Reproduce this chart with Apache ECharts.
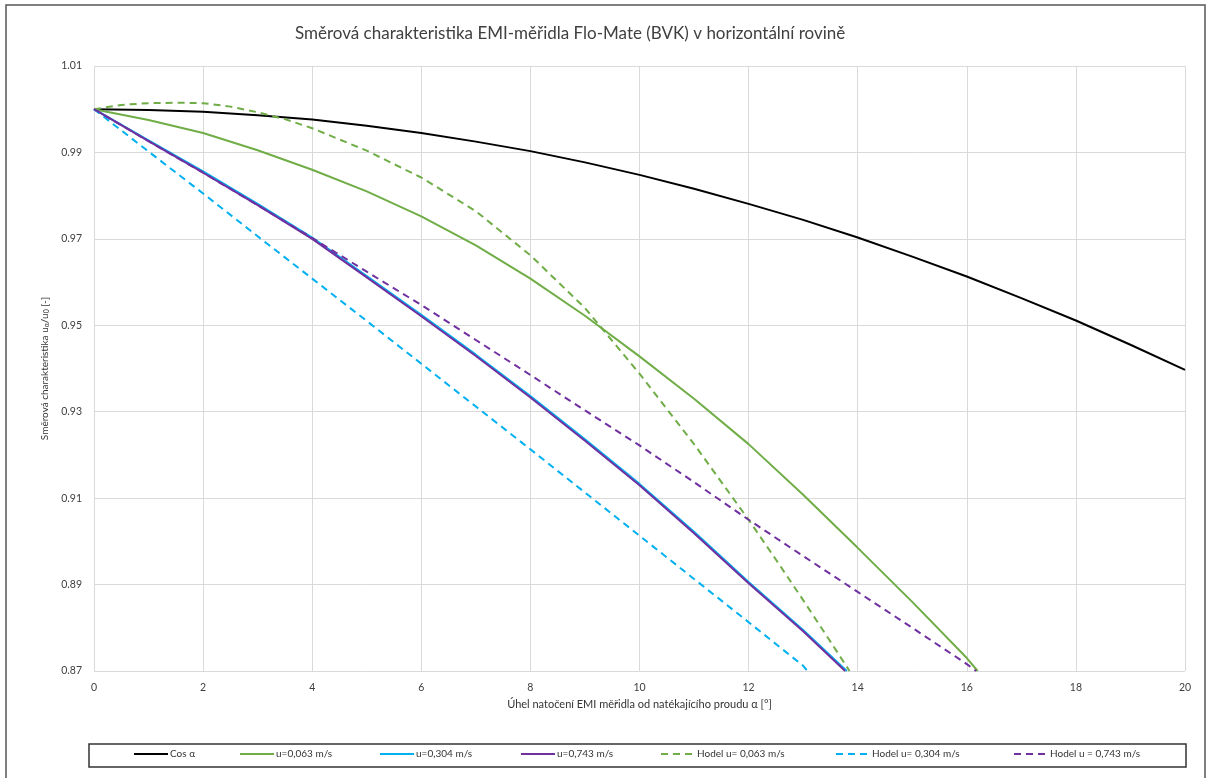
<!DOCTYPE html>
<html>
<head>
<meta charset="utf-8">
<script src="https://cdn.jsdelivr.net/npm/echarts@6/dist/echarts.min.js"></script>
<style>html,body{margin:0;padding:0;background:#fff;}#c{width:1208px;height:778px;}</style>
</head>
<body>
<div id="c"></div>
<script>
// ---- data ----
const seriesNames = ['Cos α','u=0,063 m/s','u=0,304 m/s','u=0,743 m/s','Hodel u= 0,063 m/s','Hodel u= 0,304 m/s','Hodel u = 0,743 m/s'];

const cosX = [0,1,2,3,4,5,6,7,8,9,10,11,12,13,14,15,16,17,18,19,20];
const cosY = [1.0000,0.9998,0.9994,0.9986,0.9976,0.9962,0.9945,0.9925,0.9903,0.9877,0.9848,0.9816,0.9781,0.9744,0.9703,0.9659,0.9613,0.9563,0.9511,0.9455,0.9397];

const u063X = [0,1,2,3,4,5,6,7,8,9,10,11,12,13,14,15,16,16.2];
const u063Y = [1.0000,0.9975,0.9945,0.9905,0.9860,0.9810,0.9752,0.9685,0.9608,0.9522,0.9428,0.9330,0.9225,0.9108,0.8985,0.8860,0.8730,0.8700];

const u304X = [0,1,2,3,4,5,6,7,8,9,10,11,12,13,13.8];
const u304Y = [1.0000,0.9928,0.9856,0.9781,0.9703,0.9614,0.9524,0.9432,0.9336,0.9236,0.9133,0.9022,0.8906,0.8795,0.8700];

const u743X = [0,1,2,3,4,5,6,7,8,9,10,11,12,13,13.77];
const u743Y = [1.0000,0.9926,0.9853,0.9778,0.9700,0.9611,0.9521,0.9429,0.9333,0.9233,0.9130,0.9019,0.8903,0.8792,0.8700];

const m063X = [0,0.5,1,1.5,2,2.5,3,3.5,4,5,6,7,8,9,10,11,12,12.5,13,13.5,13.85];
const m063Y = [1.0000,1.0010,1.0014,1.0015,1.0014,1.0006,0.9993,0.9977,0.9956,0.9904,0.9842,0.9764,0.9662,0.9540,0.9388,0.9225,0.9050,0.8958,0.8864,0.8768,0.8700];

const m304X = [0,1,2,3,4,5,6,7,8,9,10,11,12,13,13.08];
const m304Y = [1.0000,0.9902,0.9805,0.9706,0.9608,0.9510,0.9411,0.9312,0.9213,0.9113,0.9013,0.8913,0.8813,0.8712,0.8700];

const m743X = [0,1,2,3,4,5,6,7,8,9,10,11,12,13,14,15,16,16.17];
const m743Y = [1.0000,0.9926,0.9853,0.9778,0.9702,0.9624,0.9547,0.9466,0.9385,0.9303,0.9222,0.9137,0.9050,0.8966,0.8883,0.8800,0.8716,0.8700];

const xTicks = [0,2,4,6,8,10,12,14,16,18,20];
const yTicks = [0.87,0.89,0.91,0.93,0.95,0.97,0.99,1.01];

// ---- build chart ----
const pairs = (xs, ys) => xs.map((x, i) => [x, ys[i]]);
const colors = ['#000000','#70ad47','#00b0f0','#7030a0','#70ad47','#00b0f0','#7030a0'];
const dataSets = [pairs(cosX,cosY),pairs(u063X,u063Y),pairs(u304X,u304Y),pairs(u743X,u743Y),pairs(m063X,m063Y),pairs(m304X,m304Y),pairs(m743X,m743Y)];
const legendLeft = [133,239,379,520,660,835,1013];

const FONT = 'Lato, "Open Sans", sans-serif';

const chart = echarts.init(document.getElementById('c'), null, {renderer:'canvas'});
chart.setOption({
  animation: false,
  backgroundColor: '#fff',
  textStyle: {fontFamily: FONT},
  title: {
    text: 'Směrová charakteristika EMI-měřidla Flo-Mate (BVK) v horizontální rovině',
    left: 290, top: 20,
    textStyle: {fontSize: 17, fontWeight: 'normal', color: '#404040', fontFamily: FONT}
  },
  grid: {left: 94, right: 23, top: 66, bottom: 107, containLabel: false},
  xAxis: {
    type: 'value', min: xTicks[0], max: xTicks[xTicks.length-1], interval: xTicks[1]-xTicks[0],
    name: 'Úhel natočení EMI měřidla od natékajícího proudu α [°]',
    nameLocation: 'middle', nameGap: 28,
    nameTextStyle: {fontSize: 11, color: '#333', fontFamily: FONT},
    axisLine: {show: false}, axisTick: {show: false},
    axisLabel: {fontSize: 10.5, color: '#404040', margin: 11, fontFamily: FONT},
    splitLine: {show: true, lineStyle: {color: '#d9d9d9', width: 1}}
  },
  yAxis: {
    type: 'value', min: yTicks[0], max: yTicks[yTicks.length-1], interval: 0.02,
    name: '{n|Směrová charakteristika u}{s|α}{n|/u}{s|0}{n| [-]}',
    nameLocation: 'middle', nameGap: 42, nameRotate: 90,
    nameTextStyle: {
      fontSize: 10, color: '#333', fontFamily: FONT,
      rich: {
        n: {fontSize: 10, color: '#333', fontFamily: FONT},
        s: {fontSize: 7, color: '#333', fontFamily: FONT, verticalAlign: 'bottom', padding: [4,0,0,0]}
      }
    },
    axisLine: {show: false}, axisTick: {show: false},
    axisLabel: {fontSize: 10.5, color: '#404040', margin: 12, fontFamily: FONT,
      formatter: v => Number(v).toFixed(2)},
    splitLine: {show: true, lineStyle: {color: '#d9d9d9', width: 1}}
  },
  legend: seriesNames.map((n, i) => ({
    data: [n], left: legendLeft[i], top: 749,
    itemWidth: 34, itemHeight: 12, itemGap: 2, padding: 0,
    itemStyle: {opacity: 0},
    textStyle: {fontSize: 10, color: '#333', fontFamily: FONT, padding: [0,0,0,-3]},
    selectedMode: false
  })),
  series: seriesNames.map((n, i) => ({
    name: n, type: 'line', data: dataSets[i],
    symbol: 'none', smooth: false,
    lineStyle: {color: colors[i], width: 2, type: i >= 4 ? [7,5] : 'solid'},
    itemStyle: {color: colors[i]},
    z: i >= 4 ? 3 : 2
  })),
  graphic: [
    {type: 'rect', shape: {x: 6, y: 5, width: 1199, height: 790}, style: {fill: 'none', stroke: '#555', lineWidth: 1.5}, silent: true},
    {type: 'rect', shape: {x: 89, y: 744, width: 1097, height: 23}, style: {fill: 'none', stroke: '#333', lineWidth: 1.5}, silent: true}
  ]
});
</script>
</body>
</html>
